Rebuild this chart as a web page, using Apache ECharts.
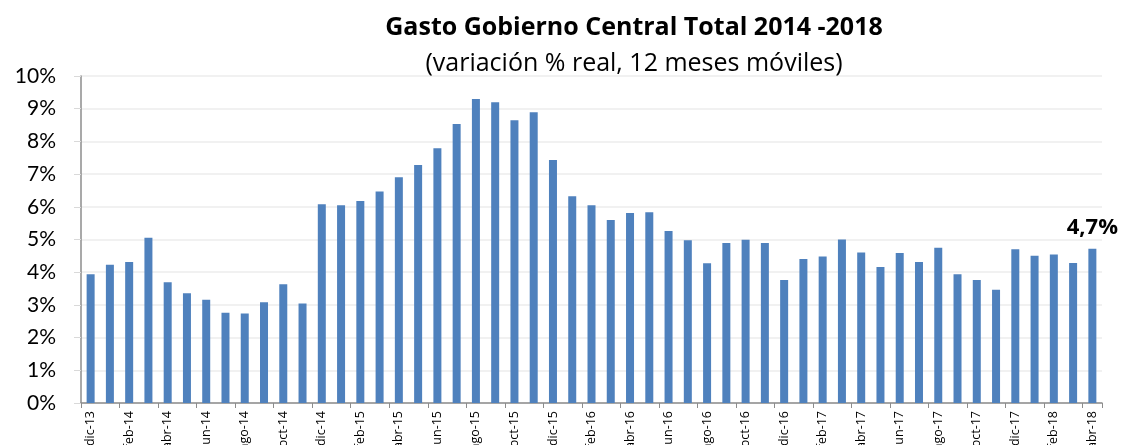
<!DOCTYPE html>
<html>
<head>
<meta charset="utf-8">
<script src="https://cdn.jsdelivr.net/npm/echarts@6/dist/echarts.min.js"></script>
<style>
  html, body { margin: 0; padding: 0; background: #fff; }
  #chart { width: 1121px; height: 445px; }
</style>
</head>
<body>
<div id="chart"></div>
<script>
// meses (dic-13 .. abr-18)
var meses = [
  'dic-13',
  'ene-14', 'feb-14', 'mar-14', 'abr-14', 'may-14', 'jun-14', 'jul-14', 'ago-14', 'sep-14', 'oct-14', 'nov-14', 'dic-14',
  'ene-15', 'feb-15', 'mar-15', 'abr-15', 'may-15', 'jun-15', 'jul-15', 'ago-15', 'sep-15', 'oct-15', 'nov-15', 'dic-15',
  'ene-16', 'feb-16', 'mar-16', 'abr-16', 'may-16', 'jun-16', 'jul-16', 'ago-16', 'sep-16', 'oct-16', 'nov-16', 'dic-16',
  'ene-17', 'feb-17', 'mar-17', 'abr-17', 'may-17', 'jun-17', 'jul-17', 'ago-17', 'sep-17', 'oct-17', 'nov-17', 'dic-17',
  'ene-18', 'feb-18', 'mar-18', 'abr-18'
];

// variación % real, 12 meses móviles
var variacion = [
  3.94,
  4.23, 4.31, 5.05, 3.69, 3.36, 3.16, 2.76, 2.74, 3.08, 3.63, 3.04, 6.08,
  6.05, 6.18, 6.47, 6.90, 7.28, 7.79, 8.53, 9.30, 9.20, 8.65, 8.89, 7.43,
  6.32, 6.05, 5.60, 5.81, 5.83, 5.26, 4.98, 4.27, 4.89, 4.99, 4.89, 3.76,
  4.40, 4.48, 5.00, 4.60, 4.16, 4.59, 4.31, 4.75, 3.94, 3.76, 3.46, 4.70,
  4.50, 4.54, 4.28, 4.72
];

var titulo = 'Gasto Gobierno Central Total 2014 -2018';
var subtitulo = '(variación % real, 12 meses móviles)';

var fuente = 'Lato, "Open Sans", sans-serif';
var fuenteTitulo = '"Open Sans", Lato, sans-serif';
var ultimo = variacion.length - 1;

var chart = echarts.init(document.getElementById('chart'), null, { renderer: 'canvas' });

chart.setOption({
  animation: false,
  textStyle: { fontFamily: fuente },
  title: {
    left: 629,
    textAlign: 'center',
    top: 10,
    text: titulo,
    subtext: subtitulo,
    itemGap: 11,
    textStyle: { fontFamily: fuenteTitulo, fontSize: 25, fontWeight: 'bold', color: '#000' },
    subtextStyle: { fontFamily: fuenteTitulo, fontSize: 25, color: '#000' }
  },
  grid: {
    left: 81,
    right: 19,
    top: 76,
    bottom: 42,
    containLabel: false,
    outerBoundsMode: 'none'
  },
  xAxis: {
    type: 'category',
    data: meses,
    boundaryGap: true,
    axisLine: { lineStyle: { color: '#8c8c8c', width: 1.5 } },
    axisTick: { show: true, interval: 1, length: 5, lineStyle: { color: '#8c8c8c' } },
    axisLabel: {
      interval: 1,
      rotate: 90,
      fontSize: 12.5,
      color: '#000',
      margin: 8,
      fontFamily: fuenteTitulo
    },
    splitLine: { show: false }
  },
  yAxis: {
    type: 'value',
    min: 0,
    max: 10,
    interval: 1,
    axisLine: { show: true, lineStyle: { color: '#8c8c8c', width: 1.5 } },
    axisTick: { show: true, length: 7, lineStyle: { color: '#d9d9d9' } },
    axisLabel: {
      formatter: '{value}%',
      fontSize: 21,
      color: '#000',
      margin: 25,
      fontFamily: fuente
    },
    splitLine: { show: true, lineStyle: { color: '#ececec', width: 1.5 } }
  },
  series: [
    {
      type: 'bar',
      data: variacion,
      barWidth: 8,
      itemStyle: { color: '#4f81bd' },
      label: {
        show: true,
        position: 'top',
        distance: 10,
        fontSize: 22,
        fontWeight: 'bold',
        color: '#000',
        fontFamily: fuenteTitulo,
        formatter: function(p) {
          if (p.dataIndex !== ultimo) return '';
          return p.value.toFixed(1).replace('.', ',') + '%';
        }
      }
    }
  ]
});
</script>
</body>
</html>
